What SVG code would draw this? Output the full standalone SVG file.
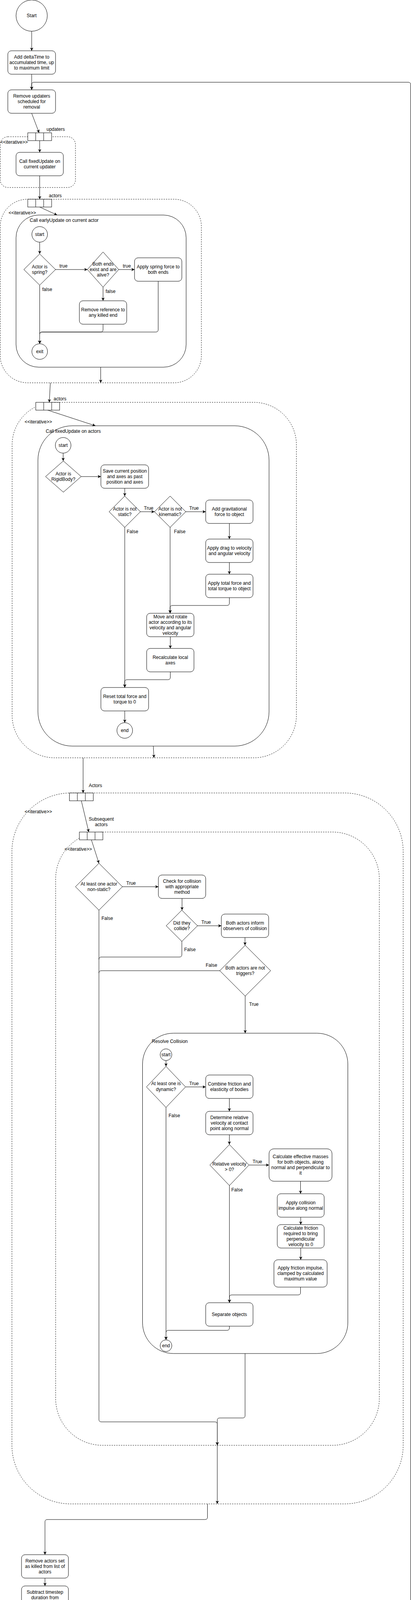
<svg xmlns="http://www.w3.org/2000/svg" width="1051" height="4662" viewBox="0 0 1051 4662">
<defs>
<style>
.n{fill:#fff;stroke:#000;stroke-width:1}
.rg{fill:none;stroke:#000;stroke-width:1;stroke-dasharray:3 3}
.ct{fill:#fff;stroke:#000;stroke-width:1}
.e{fill:none;stroke:#000;stroke-width:1}
.ea{fill:none;stroke:#000;stroke-width:1;marker-end:url(#arr)}
text{font-family:"Liberation Sans",Arial,Helvetica,sans-serif;font-size:12px;fill:#000}
.c{text-anchor:middle}
.l{text-anchor:start}
</style>
<marker id="arr" markerWidth="10" markerHeight="10" refX="8" refY="4" orient="auto" markerUnits="userSpaceOnUse">
<path d="M0,0 L8,4 L0,8 L2,4 z" fill="#000"/>
</marker>
</defs>
<rect width="1051" height="4662" fill="#fff"/>

<!-- regions -->
<g id="region1"><rect class="rg" x="0.5" y="350" width="192.5" height="130" rx="20"/><text class="l" x="1" y="368">&lt;&lt;iterative&gt;&gt;</text></g>
<g id="region2"><rect class="rg" x="0.5" y="510" width="514.5" height="470" rx="70"/><text class="l" x="22" y="549">&lt;&lt;iterative&gt;&gt;</text></g>
<g id="region3"><rect class="rg" x="31" y="1030" width="727" height="910" rx="109"/><text class="l" x="63" y="1084">&lt;&lt;iterative&gt;&gt;</text></g>
<g id="region4"><rect class="rg" x="30.5" y="2030" width="1000.5" height="1820" rx="150"/><text class="l" x="63" y="2082">&lt;&lt;iterative&gt;&gt;</text></g>
<g id="region5"><rect class="rg" x="142.3" y="2130" width="827.7" height="1570" rx="120"/><text class="l" x="165" y="2178">&lt;&lt;iterative&gt;&gt;</text></g>
<g id="region6"><rect class="rg" x="20.7" y="4325" width="308.6" height="205" rx="25"/><text class="l" x="23" y="4343">&lt;&lt;iterative&gt;&gt;</text></g>

<!-- containers -->
<g id="earlyUpdate"><rect class="ct" x="41" y="550.5" width="435" height="389.5" rx="58"/><text class="l" x="76" y="568">Call earlyUpdate on current actor</text></g>
<g id="fixedUpdateActors"><rect class="ct" x="97" y="1090" width="591" height="820" rx="88"/><text class="l" x="117" y="1108">Call fixedUpdate on actors</text></g>
<g id="resolveCollision"><rect class="ct" x="364.5" y="2645" width="525" height="820" rx="79"/><text class="l" x="388" y="2670">Resolve Collision</text></g>

<!-- connectors -->
<g id="connectors">
<path class="ea" d="M81,80 V130"/>
<path class="ea" d="M81,190 V230"/>
<path class="ea" d="M172.5,4210 H1044 Q1050,4210 1050,4204 V216.5 Q1050,210.5 1044,210.5 H87 Q81,210.5 81,216.5 V230"/>
<path class="ea" d="M81,290 L100,340"/>
<path class="ea" d="M101.5,360 V390"/>
<path class="ea" d="M101.5,450 V510"/>
<path class="ea" d="M101.5,530 L146,550.5"/>
<path class="ea" d="M101.5,620 V650"/>
<path class="ea" d="M142,690 H223.5"/>
<path class="ea" d="M303.5,690 H344"/>
<path class="ea" d="M263.5,735 V770"/>
<path class="ea" d="M101.5,730 V880"/>
<path class="ea" d="M263.5,830 V844 Q263.5,850 257.5,850 H107.5 Q101.5,850 101.5,856 V880"/>
<path class="ea" d="M404.5,720 V844 Q404.5,850 398.5,850 H107.5 Q101.5,850 101.5,856 V880"/>
<path class="ea" d="M257.5,940 V980"/>
<path class="ea" d="M128.7,980 L126,1030"/>
<path class="ea" d="M122,1050 L244,1090"/>
<path class="ea" d="M161.5,1160 V1180"/>
<path class="ea" d="M207.5,1220 H258"/>
<path class="ea" d="M319,1250 V1270"/>
<path class="ea" d="M359,1310 H395"/>
<path class="ea" d="M475,1310 H526"/>
<path class="ea" d="M586.5,1340 V1380"/>
<path class="ea" d="M586.5,1440 V1470"/>
<path class="ea" d="M586.5,1530 V1544 Q586.5,1550 580.5,1550 H441 Q435,1550 435,1556 V1570"/>
<path class="ea" d="M435,1350 V1570"/>
<path class="ea" d="M435.5,1630 V1660"/>
<path class="ea" d="M435.5,1720 V1734 Q435.5,1740 429.5,1740 H325 Q319,1740 319,1746 V1760"/>
<path class="ea" d="M319,1350 V1760"/>
<path class="ea" d="M319,1820 V1850"/>
<path class="ea" d="M392,1910 L393.7,1940"/>
<path class="ea" d="M212.5,1940 V2030"/>
<path class="ea" d="M208,2050 L227,2130"/>
<path class="ea" d="M233.7,2150 L253,2210"/>
<path class="ea" d="M313,2270 H405"/>
<path class="ea" d="M465.5,2300 V2330"/>
<path class="ea" d="M505,2370 H566"/>
<path class="ea" d="M626.5,2400 V2420"/>
<path class="ea" d="M627,2550 V2645"/>
<path class="e" d="M465,2410 V2444 Q465,2450 459,2450 H259 Q253,2450 253,2456"/>
<path class="e" d="M562,2485 H259 Q253,2485 253,2491"/>
<path class="ea" d="M253,2330 V3634 Q253,3640 259,3640 H549.6 Q555.6,3640 555.6,3646 V3700"/>
<path class="ea" d="M424.5,2715 V2730"/>
<path class="ea" d="M474.5,2782.5 H526"/>
<path class="ea" d="M586.5,2812 V2845"/>
<path class="ea" d="M586.5,2905 V2930"/>
<path class="ea" d="M636.7,2982.5 H688"/>
<path class="ea" d="M768.5,3024 V3056"/>
<path class="ea" d="M769,3116 V3135"/>
<path class="ea" d="M769,3195 V3225"/>
<path class="ea" d="M768.5,3295 V3309 Q768.5,3315 762.5,3315 H592.7 Q586.7,3315 586.7,3321 V3335"/>
<path class="ea" d="M586.7,3035 V3335"/>
<path class="ea" d="M586.5,3395 V3400 Q586.5,3405.7 580.5,3405.7 H430.5 Q424.5,3405.7 424.5,3411.7 V3430"/>
<path class="ea" d="M424.5,2835 V3430"/>
<path class="ea" d="M626.7,3465 V3624 Q626.7,3630 620.7,3630 H561.6 Q555.6,3630 555.6,3636 V3700"/>
<path class="ea" d="M555.6,3700 V3850"/>
<path class="ea" d="M530.5,3850 V3884 Q530.5,3890 524.5,3890 H121 Q115,3890 115,3896 V3980"/>
<path class="ea" d="M115,4040 V4060"/>
<path class="ea" d="M115,4120 V4150"/>
<path class="ea" d="M115,4270 V4315"/>
<path class="ea" d="M115,4335 V4355"/>
<path class="ea" d="M155,4395 H192"/>
<path class="ea" d="M115,4435 V4474 Q115,4480 121,4480 H168.3 Q174.3,4480 174.3,4486 V4530"/>
<path class="ea" d="M252,4425 V4474 Q252,4480 246,4480 H180.3 Q174.3,4480 174.3,4486 V4530"/>
<path class="ea" d="M97,4530 V4580"/>
<text class="l" x="152" y="685">true</text>
<text class="l" x="314" y="685">true</text>
<text class="l" x="108" y="745">false</text>
<text class="l" x="270" y="750">false</text>
<text class="l" x="368" y="1305">True</text>
<text class="l" x="484" y="1305">True</text>
<text class="l" x="324" y="1365">False</text>
<text class="l" x="445" y="1365">False</text>
<text class="c" x="259" y="2101">Subsequent</text>
<text class="c" x="259" y="2115">actors</text>
<text class="l" x="323" y="2265">True</text>
<text class="l" x="259.5" y="2355">False</text>
<text class="l" x="515" y="2365">True</text>
<text class="l" x="471" y="2435">False</text>
<text class="l" x="526" y="2475">False</text>
<text class="l" x="637" y="2575">True</text>
<text class="l" x="484" y="2778">True</text>
<text class="l" x="431" y="2860">False</text>
<text class="l" x="646" y="2978">True</text>
<text class="l" x="591.5" y="3050">False</text>
<text class="l" x="182" y="4205">True</text>
<text class="l" x="125" y="4285">False</text>
<text class="l" x="154" y="4390">True</text>
<text class="l" x="115" y="4450">False</text>
</g>

<!-- nodes -->
<g id="start"><circle class="n" cx="81" cy="40" r="40"/><text class="c" x="81" y="44">Start</text></g>
<g id="addDeltaTime"><rect class="n" x="20" y="130" width="122" height="60" rx="9"/><text class="c" x="81" y="150">Add deltaTime to</text><text class="c" x="81" y="164">accumulated time, up</text><text class="c" x="81" y="178">to maximum limit</text></g>
<g id="removeUpdaters"><rect class="n" x="20" y="230" width="122" height="60" rx="9"/><text class="c" x="81" y="250">Remove updaters</text><text class="c" x="81" y="264">scheduled for</text><text class="c" x="81" y="278">removal</text></g>
<g id="updatersList"><rect class="n" x="71" y="340" width="61" height="20"/><path class="e" d="M91.3,340 V360 M111.7,340 V360"/><text class="l" x="119" y="335">updaters</text></g>
<g id="callFixedUpdateUpdater"><rect class="n" x="41" y="390" width="121" height="60" rx="9"/><text class="c" x="101.5" y="417">Call fixedUpdate on</text><text class="c" x="101.5" y="431">current updater</text></g>
<g id="actorsList1"><rect class="n" x="71" y="510" width="61" height="20"/><path class="e" d="M91.3,510 V530 M111.7,510 V530"/><text class="l" x="125" y="505">actors</text></g>
<g id="start1"><circle class="n" cx="101.5" cy="600" r="20"/><text class="c" x="101.5" y="604">start</text></g>
<g id="isSpring"><polygon class="n" points="101.5,650 142,690 101.5,730 61,690"/><text class="c" x="101.5" y="687">Actor is</text><text class="c" x="101.5" y="701">spring?</text></g>
<g id="endsAlive"><polygon class="n" points="263.5,645 303.5,690 263.5,735 223.5,690"/><text class="c" x="263.5" y="680">Both ends</text><text class="c" x="263.5" y="694">exist and are</text><text class="c" x="263.5" y="708">alive?</text></g>
<g id="applySpring"><rect class="n" x="344" y="660" width="121" height="60" rx="9"/><text class="c" x="404.5" y="687">Apply spring force to</text><text class="c" x="404.5" y="701">both ends</text></g>
<g id="removeRef"><rect class="n" x="203" y="770" width="121" height="60" rx="9"/><text class="c" x="263.5" y="797">Remove reference to</text><text class="c" x="263.5" y="811">any killed end</text></g>
<g id="exit"><circle class="n" cx="101.5" cy="900" r="20"/><text class="c" x="101.5" y="904">exit</text></g>
<g id="actorsList2"><rect class="n" x="91.5" y="1030" width="61" height="20"/><path class="e" d="M111.8,1030 V1050 M132.2,1030 V1050"/><text class="l" x="137" y="1025">actors</text></g>
<g id="start2"><circle class="n" cx="161.5" cy="1140" r="20"/><text class="c" x="161.5" y="1144">start</text></g>
<g id="isRigidBody"><polygon class="n" points="162,1180 207.5,1220 162,1260 116.5,1220"/><text class="c" x="162" y="1217">Actor is</text><text class="c" x="162" y="1231">RigidBody?</text></g>
<g id="savePosition"><rect class="n" x="258" y="1190" width="122" height="60" rx="9"/><text class="c" x="319" y="1210">Save current position</text><text class="c" x="319" y="1224">and axes as past</text><text class="c" x="319" y="1238">position and axes</text></g>
<g id="notStatic"><polygon class="n" points="319,1270 359,1310 319,1350 279,1310"/><text class="c" x="319" y="1307">Actor is not</text><text class="c" x="319" y="1321">static?</text></g>
<g id="notKinematic"><polygon class="n" points="435,1270 475,1310 435,1350 395,1310"/><text class="c" x="435" y="1307">Actor is not</text><text class="c" x="435" y="1321">kinematic?</text></g>
<g id="addGravity"><rect class="n" x="526" y="1280" width="121" height="60" rx="9"/><text class="c" x="586.5" y="1307">Add gravitational</text><text class="c" x="586.5" y="1321">force to object</text></g>
<g id="applyDrag"><rect class="n" x="526" y="1380" width="121" height="60" rx="9"/><text class="c" x="586.5" y="1407">Apply drag to velocity</text><text class="c" x="586.5" y="1421">and angular velocity</text></g>
<g id="applyTotalForce"><rect class="n" x="526" y="1470" width="121" height="60" rx="9"/><text class="c" x="586.5" y="1497">Apply total force and</text><text class="c" x="586.5" y="1511">total torque to object</text></g>
<g id="moveRotate"><rect class="n" x="375" y="1570" width="121" height="60" rx="9"/><text class="c" x="435.5" y="1583">Move and rotate</text><text class="c" x="435.5" y="1597">actor according to its</text><text class="c" x="435.5" y="1611">velocity and angular</text><text class="c" x="435.5" y="1625">velocity</text></g>
<g id="recalcAxes"><rect class="n" x="375" y="1660" width="121" height="60" rx="9"/><text class="c" x="435.5" y="1687">Recalculate local</text><text class="c" x="435.5" y="1701">axes</text></g>
<g id="resetForce"><rect class="n" x="258" y="1760" width="122" height="60" rx="9"/><text class="c" x="319" y="1787">Reset total force and</text><text class="c" x="319" y="1801">torque to 0</text></g>
<g id="end1"><circle class="n" cx="319" cy="1870" r="20"/><text class="c" x="319" y="1874">end</text></g>
<g id="actorsList3"><rect class="n" x="177.5" y="2030" width="61" height="20"/><path class="e" d="M197.8,2030 V2050 M218.2,2030 V2050"/><text class="l" x="227" y="2015">Actors</text></g>
<g id="subsequentList"><rect class="n" x="203" y="2130" width="60" height="20"/><path class="e" d="M223,2130 V2150 M243,2130 V2150"/></g>
<g id="nonStatic"><polygon class="n" points="253,2210 313,2270 253,2330 193,2270"/><text class="c" x="253" y="2267">At least one actor</text><text class="c" x="253" y="2281">non-static?</text></g>
<g id="checkCollision"><rect class="n" x="405" y="2240" width="121" height="60" rx="9"/><text class="c" x="465.5" y="2260">Check for collision</text><text class="c" x="465.5" y="2274">with appropriate</text><text class="c" x="465.5" y="2288">method</text></g>
<g id="didCollide"><polygon class="n" points="465,2330 505,2370 465,2410 425,2370"/><text class="c" x="465" y="2367">Did they</text><text class="c" x="465" y="2381">collide?</text></g>
<g id="informObservers"><rect class="n" x="566" y="2340" width="121" height="60" rx="9"/><text class="c" x="626.5" y="2367">Both actors inform</text><text class="c" x="626.5" y="2381">observers of collision</text></g>
<g id="notTriggers"><polygon class="n" points="627,2420 692,2485 627,2550 562,2485"/><text class="c" x="627" y="2482">Both actors are not</text><text class="c" x="627" y="2496">triggers?</text></g>
<g id="start3"><circle class="n" cx="424.5" cy="2700" r="15"/><text class="c" x="424.5" y="2704">start</text></g>
<g id="isDynamic"><polygon class="n" points="424.5,2730 474.5,2782.5 424.5,2835 374.5,2782.5"/><text class="c" x="424.5" y="2778">At least one is</text><text class="c" x="424.5" y="2793">dynamic?</text></g>
<g id="combineFriction"><rect class="n" x="526" y="2752" width="121" height="60" rx="9"/><text class="c" x="586.5" y="2779">Combine friction and</text><text class="c" x="586.5" y="2793">elasticity of bodies</text></g>
<g id="relativeVelocity"><rect class="n" x="526" y="2845" width="121" height="60" rx="9"/><text class="c" x="586.5" y="2865">Determine relative</text><text class="c" x="586.5" y="2879">velocity at contact</text><text class="c" x="586.5" y="2893">point along normal</text></g>
<g id="velocityPositive"><polygon class="n" points="586.7,2930 636.7,2982.5 586.7,3035 536.7,2982.5"/><text class="c" x="586.7" y="2984">Relative velocity</text><text class="c" x="586.7" y="2998">&gt; 0?</text></g>
<g id="effectiveMasses"><rect class="n" x="688" y="2941" width="161" height="83" rx="12"/><text class="c" x="768.5" y="2965">Calculate effective masses</text><text class="c" x="768.5" y="2979">for both objects, along</text><text class="c" x="768.5" y="2993">normal and perpendicular to</text><text class="c" x="768.5" y="3007">it</text></g>
<g id="collisionImpulse"><rect class="n" x="709" y="3056" width="120" height="60" rx="9"/><text class="c" x="769" y="3083">Apply collision</text><text class="c" x="769" y="3097">impulse along normal</text></g>
<g id="calcFriction"><rect class="n" x="709" y="3135" width="120" height="60" rx="9"/><text class="c" x="769" y="3148">Calculate friction</text><text class="c" x="769" y="3162">required to bring</text><text class="c" x="769" y="3176">perpendicular</text><text class="c" x="769" y="3190">velocity to 0</text></g>
<g id="frictionImpulse"><rect class="n" x="700.5" y="3225" width="136" height="70" rx="10"/><text class="c" x="768.5" y="3250">Apply friction impulse,</text><text class="c" x="768.5" y="3264">clamped by calculated</text><text class="c" x="768.5" y="3278">maximum value</text></g>
<g id="separateObjects"><rect class="n" x="526" y="3335" width="121" height="60" rx="9"/><text class="c" x="586.5" y="3369">Separate objects</text></g>
<g id="end2"><circle class="n" cx="424.5" cy="3445" r="15"/><text class="c" x="424.5" y="3449">end</text></g>
<g id="removeKilled"><rect class="n" x="55" y="3980" width="120" height="60" rx="9"/><text class="c" x="115" y="4000">Remove actors set</text><text class="c" x="115" y="4014">as killed from list of</text><text class="c" x="115" y="4028">actors</text></g>
<g id="subtractTimestep"><rect class="n" x="55" y="4060" width="120" height="60" rx="9"/><text class="c" x="115" y="4080">Subtract timestep</text><text class="c" x="115" y="4094">duration from</text><text class="c" x="115" y="4108">accumulated time</text></g>
<g id="timeCheck"><polygon class="n" points="115,4150 172.5,4210 115,4270 57.5,4210"/><text class="c" x="115" y="4207">Accumulated time</text><text class="c" x="115" y="4221">&gt;= timestep?</text></g>
<g id="actorsList4"><rect class="n" x="85" y="4315" width="60" height="20"/><path class="e" d="M105,4315 V4335 M125,4315 V4335"/></g>
<g id="setToDraw"><polygon class="n" points="115,4355 155,4395 115,4435 75,4395"/><text class="c" x="115" y="4392">Actor set to</text><text class="c" x="115" y="4406">be drawn?</text></g>
<g id="createGizmos"><rect class="n" x="192" y="4365" width="120" height="60" rx="9"/><text class="c" x="252" y="4392">Create gizmos to</text><text class="c" x="252" y="4406">render actor</text></g>
<g id="end"><circle class="n" cx="98" cy="4620" r="40"/><text class="c" x="98" y="4624">End</text></g>
</svg>
